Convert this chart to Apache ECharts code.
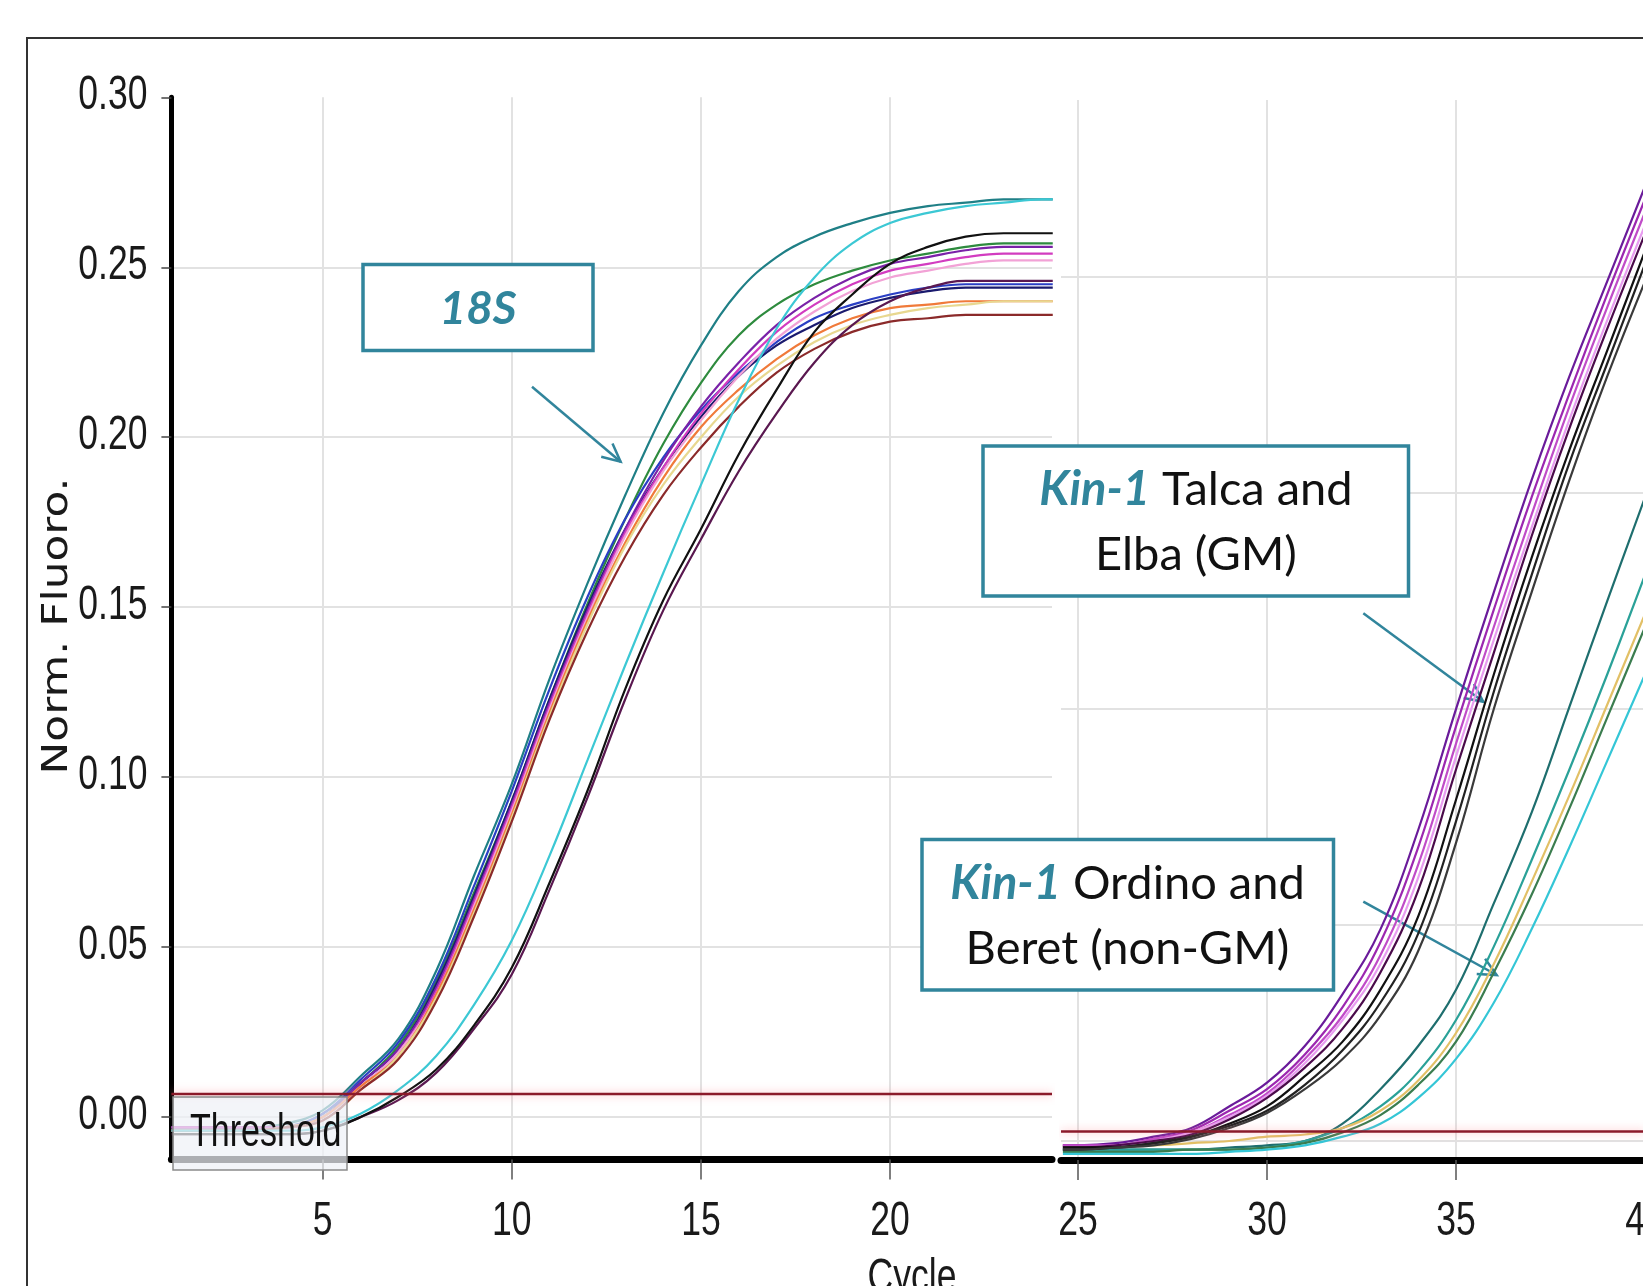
<!DOCTYPE html>
<html>
<head>
<meta charset="utf-8">
<script src="https://cdn.jsdelivr.net/npm/echarts@6/dist/echarts.min.js"></script>
<style>
html,body{margin:0;padding:0;background:#fff;}
#lineChart{width:1643px;height:1286px;}
</style>
</head>
<body>
<div id="lineChart"></div>
<script>
// left panel: 18S, right panel: Kin-1 (two instrument screenshots side by side)
var cyclesLeft = [1,2,3,4,5,6,7,8,9,10,11,12,13,14,15,16,17,18,19,20,21,22,23,24,24.3];
var cyclesRight = [24.6,25,26,27,28,29,30,31,32,33,34,35,36,37,38,39,40];

var xTicksLeft = [5,10,15,20];
var xTicksRight = [25,30,35,40];
var yTicksLeft = ['0.00','0.05','0.10','0.15','0.20','0.25','0.30'];

var thresholdLeft = 0.0068;
var thresholdRight = 0.0022;

// 18S curves
var teal18S    = [-0.003,-0.003,-0.003,-0.002,0.002,0.012,0.023,0.043,0.071,0.098,0.129,0.157,0.183,0.207,0.227,0.243,0.253,0.259,0.263,0.266,0.268,0.269,0.270,0.270,0.270];
var green18S   = [-0.003,-0.003,-0.003,-0.003,0.001,0.010,0.021,0.040,0.066,0.093,0.123,0.151,0.176,0.198,0.216,0.230,0.239,0.245,0.249,0.252,0.254,0.256,0.257,0.257,0.257];
var blue18S    = [-0.004,-0.004,-0.004,-0.003,0.001,0.011,0.022,0.041,0.068,0.096,0.126,0.153,0.176,0.194,0.208,0.219,0.228,0.235,0.239,0.242,0.244,0.245,0.245,0.245,0.245];
var navy18S    = [-0.004,-0.004,-0.004,-0.003,0.000,0.010,0.020,0.039,0.065,0.093,0.123,0.150,0.173,0.191,0.206,0.218,0.227,0.233,0.238,0.241,0.243,0.244,0.244,0.244,0.244];
var purple18S  = [-0.003,-0.003,-0.003,-0.003,0.000,0.010,0.020,0.038,0.064,0.092,0.122,0.149,0.173,0.193,0.209,0.222,0.233,0.241,0.247,0.251,0.253,0.255,0.256,0.256,0.256];
var magenta18S = [-0.003,-0.003,-0.003,-0.003,0.000,0.009,0.019,0.037,0.063,0.091,0.121,0.148,0.172,0.191,0.207,0.220,0.231,0.239,0.245,0.249,0.251,0.253,0.254,0.254,0.254];
var pink18S    = [-0.004,-0.004,-0.004,-0.003,0.000,0.009,0.019,0.036,0.062,0.090,0.120,0.147,0.171,0.190,0.205,0.218,0.229,0.237,0.243,0.247,0.249,0.251,0.252,0.252,0.252];
var orange18S  = [-0.004,-0.004,-0.004,-0.003,0.000,0.009,0.018,0.036,0.061,0.089,0.119,0.146,0.169,0.188,0.203,0.214,0.223,0.230,0.235,0.238,0.239,0.240,0.240,0.240,0.240];
var yellow18S  = [-0.004,-0.004,-0.004,-0.003,-0.001,0.008,0.018,0.035,0.060,0.088,0.118,0.145,0.168,0.186,0.200,0.212,0.221,0.228,0.233,0.236,0.238,0.239,0.240,0.240,0.240];
var brown18S   = [-0.004,-0.004,-0.004,-0.003,-0.001,0.008,0.017,0.034,0.059,0.087,0.117,0.143,0.165,0.183,0.197,0.209,0.219,0.226,0.231,0.234,0.235,0.236,0.236,0.236,0.236];
var cyan18S    = [-0.004,-0.004,-0.004,-0.004,-0.003,0.001,0.008,0.018,0.033,0.052,0.077,0.105,0.133,0.160,0.186,0.211,0.232,0.247,0.257,0.263,0.266,0.268,0.269,0.270,0.270];
var black18S   = [-0.005,-0.005,-0.005,-0.005,-0.004,0.000,0.006,0.014,0.027,0.044,0.069,0.096,0.126,0.152,0.173,0.195,0.214,0.231,0.242,0.251,0.256,0.259,0.260,0.260,0.260];
var maroon18S  = [-0.005,-0.005,-0.005,-0.005,-0.004,0.000,0.005,0.013,0.026,0.042,0.067,0.094,0.123,0.149,0.170,0.190,0.207,0.222,0.233,0.240,0.244,0.246,0.246,0.246,0.246];

// Kin-1 Talca / Elba (GM)
var gm1 = [-0.001,-0.001,-0.0005,0.001,0.003,0.008,0.0135,0.022,0.034,0.049,0.072,0.100,0.127,0.153,0.177,0.199,0.221];
var gm2 = [-0.001,-0.001,-0.001,0.0005,0.0025,0.007,0.012,0.020,0.031,0.046,0.068,0.096,0.123,0.149,0.173,0.196,0.218];
var gm3 = [-0.001,-0.001,-0.001,0.0005,0.002,0.006,0.011,0.019,0.029,0.043,0.064,0.092,0.119,0.145,0.170,0.193,0.215];
var gm4 = [-0.0015,-0.0015,-0.001,0.000,0.002,0.0055,0.0105,0.018,0.028,0.041,0.061,0.089,0.116,0.142,0.167,0.190,0.212];
var gm5 = [-0.0015,-0.0015,-0.001,0.000,0.0015,0.005,0.010,0.017,0.026,0.039,0.058,0.086,0.113,0.140,0.165,0.188,0.210];
var gm6 = [-0.0015,-0.0015,-0.0015,-0.0005,0.001,0.004,0.008,0.015,0.023,0.035,0.052,0.079,0.108,0.135,0.160,0.183,0.206];
var gm7 = [-0.002,-0.002,-0.0015,-0.0005,0.001,0.0035,0.007,0.013,0.021,0.032,0.048,0.074,0.104,0.131,0.157,0.180,0.203];
var gm8 = [-0.002,-0.002,-0.0015,-0.001,0.0005,0.003,0.0065,0.012,0.019,0.029,0.044,0.069,0.100,0.127,0.153,0.177,0.199];

// Kin-1 Ordino / Beret (non-GM)
var ng1 = [-0.002,-0.002,-0.002,-0.002,-0.002,-0.0015,-0.001,0.000,0.004,0.012,0.022,0.035,0.055,0.076,0.1005,0.125,0.149];
var ng2 = [-0.002,-0.002,-0.002,-0.002,-0.002,-0.002,-0.0015,0.000,0.003,0.008,0.016,0.028,0.045,0.065,0.086,0.108,0.131];
var ng3 = [-0.001,-0.001,-0.001,-0.001,-0.0005,0.000,0.001,0.0015,0.003,0.007,0.014,0.025,0.041,0.060,0.080,0.101,0.122];
var ng4 = [-0.0025,-0.0025,-0.0025,-0.0025,-0.002,-0.002,-0.0015,-0.0005,0.002,0.006,0.013,0.023,0.039,0.057,0.077,0.098,0.119];
var ng5 = [-0.003,-0.003,-0.003,-0.003,-0.003,-0.0025,-0.002,-0.001,0.001,0.004,0.010,0.019,0.032,0.049,0.068,0.088,0.108];

var tickFont = "'Liberation Sans',Arial,sans-serif";
var boxFont = "Lato,'Open Sans',sans-serif";
var teal = '#31859c';

function curve(name, color, xs, values, panel) {
    return {
        name: name,
        type: 'line',
        xAxisIndex: panel,
        yAxisIndex: panel,
        data: values.map(function (v, i) { return [xs[i], v]; }),
        smooth: 0.4,
        symbol: 'none',
        silent: true,
        lineStyle: {color: color, width: 2.2},
        itemStyle: {color: color}
    };
}

function threshold(panel, x0, x1, t) {
    return {
        name: 'Threshold', type: 'line', xAxisIndex: panel, yAxisIndex: panel,
        data: [[x0, t], [x1, t]], symbol: 'none', silent: true, z: 3,
        lineStyle: {color: '#8b1a2a', width: 2.5, shadowColor: 'rgba(255,140,150,0.7)', shadowBlur: 8}
    };
}

function arrow(x1, y1, x2, y2) {
    var a = Math.atan2(y2 - y1, x2 - x1);
    var len = 20, spread = 0.45;
    return {
        type: 'group',
        z: 120,
        children: [
            {type: 'line', shape: {x1: x1, y1: y1, x2: x2, y2: y2}, style: {stroke: teal, lineWidth: 2.5}},
            {type: 'polyline', shape: {points: [
                [x2 - len * Math.cos(a - spread), y2 - len * Math.sin(a - spread)],
                [x2, y2],
                [x2 - len * Math.cos(a + spread), y2 - len * Math.sin(a + spread)]
            ]}, style: {stroke: teal, lineWidth: 2.5, fill: 'none'}}
        ]
    };
}

// condensed tick label (the instrument font is a narrow bitmap face)
function narrowText(text, x, y, align, vAlign, size) {
    return {
        type: 'text', z: 50, silent: true, x: x, y: y, scaleX: 0.74,
        style: {text: text, fontFamily: tickFont, fontSize: size || 48, fill: '#1a1a1a',
            align: align, verticalAlign: vAlign}
    };
}

var leftSeries = [
    curve('18S teal', '#1f7f86', cyclesLeft, teal18S, 0),
    curve('18S green', '#2e8b3e', cyclesLeft, green18S, 0),
    curve('18S blue', '#2a3fc4', cyclesLeft, blue18S, 0),
    curve('18S navy', '#1a1a6e', cyclesLeft, navy18S, 0),
    curve('18S purple', '#7a22a8', cyclesLeft, purple18S, 0),
    curve('18S magenta', '#d23cc0', cyclesLeft, magenta18S, 0),
    curve('18S pink', '#f2a2d6', cyclesLeft, pink18S, 0),
    curve('18S orange', '#f07a3a', cyclesLeft, orange18S, 0),
    curve('18S yellow', '#e8d890', cyclesLeft, yellow18S, 0),
    curve('18S brown', '#8b2a2a', cyclesLeft, brown18S, 0),
    curve('18S cyan', '#3cc8d4', cyclesLeft, cyan18S, 0),
    curve('18S maroon', '#5a1850', cyclesLeft, maroon18S, 0),
    curve('18S black', '#111111', cyclesLeft, black18S, 0),
    threshold(0, 1, 24.28, thresholdLeft)
];

var rightSeries = [
    curve('non-GM teal dark', '#1e6e6e', cyclesRight, ng1, 1),
    curve('non-GM teal', '#2aa198', cyclesRight, ng2, 1),
    curve('non-GM yellow', '#e2c066', cyclesRight, ng3, 1),
    curve('non-GM green', '#3b7d4f', cyclesRight, ng4, 1),
    curve('non-GM cyan', '#34c6d6', cyclesRight, ng5, 1),
    curve('GM purple', '#6a1b9a', cyclesRight, gm1, 1),
    curve('GM violet', '#9c27b0', cyclesRight, gm2, 1),
    curve('GM magenta', '#c04cc8', cyclesRight, gm3, 1),
    curve('GM pink', '#e89cf0', cyclesRight, gm4, 1),
    curve('GM dark purple', '#4a0a4a', cyclesRight, gm5, 1),
    curve('GM black', '#111111', cyclesRight, gm6, 1),
    curve('GM black 2', '#222222', cyclesRight, gm7, 1),
    curve('GM grey', '#3a3a3a', cyclesRight, gm8, 1),
    threshold(1, 24.55, 40, thresholdRight)
];

var gridColor = '#e2e2e2';
var xTick = {show: true, length: 20, lineStyle: {color: '#555', width: 1.5}};

var chart = echarts.init(document.getElementById('lineChart'));
chart.setOption({
    backgroundColor: '#fff',
    animation: false,
    grid: [
        {left: 171.4, top: 97.3, width: 880.6, height: 1062.3, outerBoundsMode: 'none', containLabel: false},
        {left: 1061, top: 100, width: 584, height: 1060, outerBoundsMode: 'none', containLabel: false}
    ],
    xAxis: [
        {
            type: 'value', gridIndex: 0, min: 1, max: 24.28, splitNumber: 5,
            axisLine: {show: true, onZero: false, lineStyle: {color: '#000', width: 7}},
            axisTick: Object.assign({customValues: xTicksLeft}, xTick),
            axisLabel: {show: false},
            splitLine: {show: true, showMinLine: true, showMaxLine: true, lineStyle: {color: gridColor, width: 2}}
        },
        {
            type: 'value', gridIndex: 1, min: 24.55, max: 40, splitNumber: 3,
            axisLine: {show: true, onZero: false, lineStyle: {color: '#000', width: 7}},
            axisTick: Object.assign({customValues: xTicksRight}, xTick),
            axisLabel: {show: false},
            splitLine: {show: true, showMinLine: true, showMaxLine: true, lineStyle: {color: gridColor, width: 2}}
        }
    ],
    yAxis: [
        {
            type: 'value', gridIndex: 0, min: -0.0125, max: 0.30, splitNumber: 6,
            axisLine: {show: true, onZero: false, lineStyle: {color: '#000', width: 5}},
            axisTick: {show: true, length: 10, customValues: yTicksLeft.map(Number), lineStyle: {color: '#444', width: 1.5}},
            axisLabel: {show: false},
            splitLine: {show: true, showMinLine: true, showMaxLine: false, lineStyle: {color: gridColor, width: 2}}
        },
        {
            type: 'value', gridIndex: 1, min: -0.0044, max: 0.241, splitNumber: 5,
            axisLine: {show: false},
            axisTick: {show: false},
            axisLabel: {show: false},
            splitLine: {show: true, showMinLine: false, showMaxLine: false, lineStyle: {color: gridColor, width: 2}}
        }
    ],
    series: leftSeries.concat(rightSeries)
});

// tick labels placed through the axes' own scales
var labels = [];
var axisX = chart.convertToPixel({xAxisIndex: 0}, 1);
xTicksLeft.forEach(function (v) {
    labels.push(narrowText(String(v), chart.convertToPixel({xAxisIndex: 0}, v), 1222, 'center', 'middle'));
});
xTicksRight.forEach(function (v) {
    labels.push(narrowText(String(v), chart.convertToPixel({xAxisIndex: 1}, v), 1222, 'center', 'middle'));
});
yTicksLeft.forEach(function (s) {
    labels.push(narrowText(s, axisX - 24, chart.convertToPixel({yAxisIndex: 0}, parseFloat(s)) - 1.5, 'right', 'middle'));
});

chart.setOption({
    graphic: labels.concat([
        // outer frame
        {type: 'rect', z: 1, silent: true, shape: {x: 27, y: 38, width: 1700, height: 1400},
            style: {fill: 'none', stroke: '#333', lineWidth: 2}},
        // axis names
        {type: 'text', z: 50, x: 58, y: 626, rotation: Math.PI / 2, scaleX: 1.22,
            style: {text: 'Norm. Fluoro.', fontFamily: "'DejaVu Sans',sans-serif", fontSize: 36, fill: '#1a1a1a',
                align: 'center', verticalAlign: 'middle'}},
        narrowText('Cycle', 912, 1255, 'center', 'top', 48),
        // threshold label
        {type: 'rect', z: 110, shape: {x: 173, y: 1097, width: 174, height: 73},
            style: {fill: 'rgba(238,241,246,0.72)', stroke: '#8a8a8a', lineWidth: 1.5}},
        {type: 'text', z: 111, x: 190, y: 1133, scaleX: 0.74,
            style: {text: 'Threshold', fontFamily: tickFont, fontSize: 46, fill: '#111', align: 'left', verticalAlign: 'middle'}},
        // 18S box
        {type: 'rect', z: 115, shape: {x: 363, y: 264.5, width: 230, height: 86},
            style: {fill: '#fff', stroke: teal, lineWidth: 3.5}},
        {type: 'text', z: 116, x: 478, y: 309,
            style: {text: '18S', fontFamily: boxFont, fontSize: 46, fontWeight: 'bold', fontStyle: 'italic',
                fill: teal, align: 'center', verticalAlign: 'middle'}},
        arrow(532, 386.7, 620.6, 461.7),
        // Kin-1 Talca and Elba box
        {type: 'rect', z: 115, shape: {x: 983, y: 446, width: 425.5, height: 150},
            style: {fill: '#fff', stroke: teal, lineWidth: 3.5}},
        {type: 'text', z: 116, x: 1196, y: 522,
            style: {text: '{k|Kin-1} Talca and\nElba (GM)', fontFamily: boxFont, fontSize: 47, lineHeight: 65,
                fill: '#111', align: 'center', verticalAlign: 'middle',
                rich: {k: {fontFamily: boxFont, fontSize: 47, lineHeight: 65, fontWeight: 'bold', fontStyle: 'italic', fill: teal}}}},
        arrow(1363.3, 613.3, 1483.3, 701.7),
        // Kin-1 Ordino and Beret box
        {type: 'rect', z: 115, shape: {x: 922, y: 839.5, width: 411.5, height: 150.5},
            style: {fill: '#fff', stroke: teal, lineWidth: 3.5}},
        {type: 'text', z: 116, x: 1127.5, y: 916,
            style: {text: '{k|Kin-1} Ordino and\nBeret (non-GM)', fontFamily: boxFont, fontSize: 47, lineHeight: 65,
                fill: '#111', align: 'center', verticalAlign: 'middle',
                rich: {k: {fontFamily: boxFont, fontSize: 47, lineHeight: 65, fontWeight: 'bold', fontStyle: 'italic', fill: teal}}}},
        arrow(1363.3, 901.7, 1496.7, 975)
    ])
});
</script>
</body>
</html>
